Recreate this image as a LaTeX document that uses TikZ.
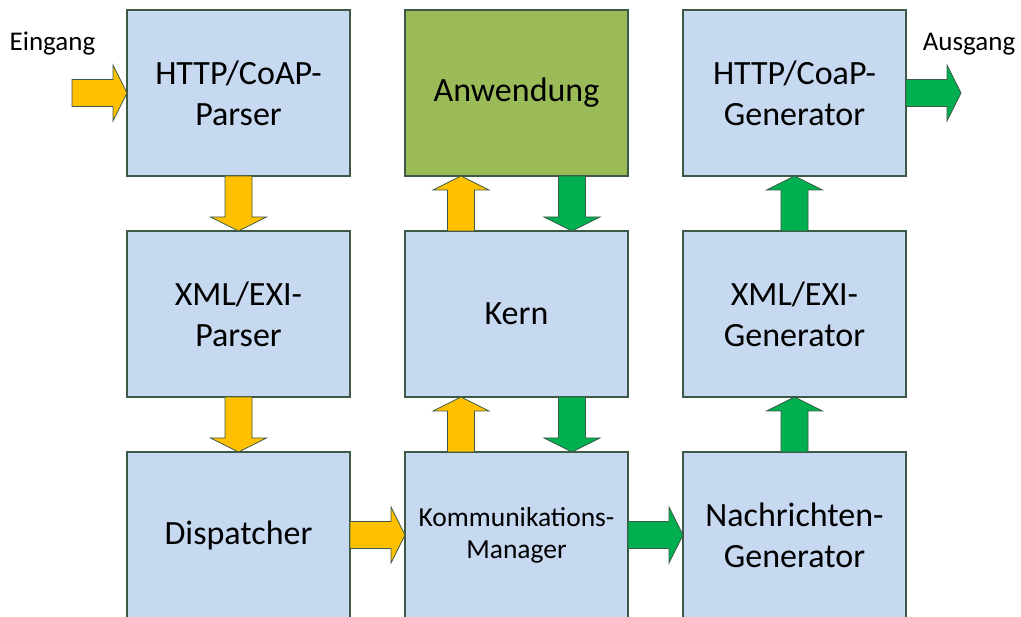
\documentclass[tikz,border=0pt]{standalone}
\usepackage{fontspec}
\setmainfont{Carlito}
\usetikzlibrary{positioning,calc}
\definecolor{boxblue}{RGB}{198,217,241}
\definecolor{appgreen}{RGB}{155,187,89}
\definecolor{inyellow}{RGB}{255,192,0}
\definecolor{outgreen}{RGB}{0,176,80}
\definecolor{edge}{RGB}{60,90,70}

% fat arrow from #2 to #3, filled with #1
\newcommand{\blockarrow}[3]{%
	\path (#2) coordinate (ba-s) (#3) coordinate (ba-e);
	\path ($(ba-e)!14pt!(ba-s)$) coordinate (ba-h);
	\filldraw[fill=#1,draw=edge,line width=0.8pt]
		($(ba-s)!13.5pt!90:(ba-e)$) -- ($(ba-h)!13.5pt!90:(ba-e)$) -- ($(ba-h)!28pt!90:(ba-e)$)
		-- (ba-e) -- ($(ba-h)!28pt!-90:(ba-e)$) -- ($(ba-h)!13.5pt!-90:(ba-e)$)
		-- ($(ba-s)!13.5pt!-90:(ba-e)$) -- cycle;
}

\begin{document}
\begin{tikzpicture}[x=1pt,y=-1pt,node distance=55pt,
	block/.style={draw=edge,line width=1.2pt,fill=boxblue,minimum width=223pt,minimum height=166pt,
		inner sep=0pt,outer sep=0pt,align=center,font=\fontsize{34}{41}\selectfont},
	label/.style={anchor=base,font=\fontsize{27}{33}\selectfont}]
	\useasboundingbox (0,0) rectangle (1021,617);
	
	\node[block] (httpparser) at (238.5,93) {HTTP/CoAP-\\Parser};
	\node[block,below=of httpparser] (xmlparser) {XML/EXI-\\Parser};
	\node[block,below=of xmlparser] (dispatcher) {Dispatcher};
	
	\node[block,fill=appgreen,right=of httpparser] (anwendung) {Anwendung};
	\node[block,below=of anwendung] (kern) {Kern};
	\node[block,below=of kern,font=\fontsize{27.5}{32}\selectfont] (kommmanager) {Kommunikations-\\Manager};
	
	\node[block,right=of anwendung] (httpgen) {HTTP/CoaP-\\Generator};
	\node[block,below=of httpgen] (xmlgen) {XML/EXI-\\Generator};
	\node[block,below=of xmlgen] (nachrgen) {Nachrichten-\\Generator};
	
	\coordinate[left=of httpparser] (in);
	\coordinate[right=of httpgen] (out);
	\node[label] (eingang) at (52.5,51) {Eingang};
	\node[label] (ausgang) at (969,51) {Ausgang};
	
	% up and down lanes of the middle column
	\foreach \n/\s in {anwendung/south, kern/north, kern/south, kommmanager/north}{
		\coordinate (\n-\s-l) at ([xshift=-55.5pt]\n.\s);
		\coordinate (\n-\s-r) at ([xshift=55.5pt]\n.\s);
	}
	
	\foreach \a/\b in {in/httpparser.west, httpparser.south/xmlparser.north,
		xmlparser.south/dispatcher.north, dispatcher.east/kommmanager.west,
		kommmanager-north-l/kern-south-l, kern-north-l/anwendung-south-l}{
		\blockarrow{inyellow}{\a}{\b}
	}
	\foreach \a/\b in {anwendung-south-r/kern-north-r, kern-south-r/kommmanager-north-r,
		kommmanager.east/nachrgen.west, nachrgen.north/xmlgen.south,
		xmlgen.north/httpgen.south, httpgen.east/out}{
		\blockarrow{outgreen}{\a}{\b}
	}
\end{tikzpicture}
\end{document}
